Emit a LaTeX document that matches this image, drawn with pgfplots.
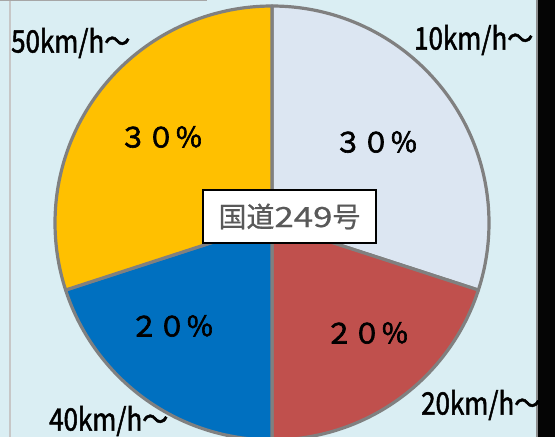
\documentclass[border=0pt]{standalone}
\usepackage{pgfplots}
\pgfplotsset{compat=1.18}
\usepackage{pgfplotstable}
\usepackage{fontspec}
\newfontfamily\jp[FakeBold=0.6]{Noto Sans CJK JP}
\newfontfamily\jpw[FakeBold=0.6,FakeStretch=1.25]{Noto Sans CJK JP}
\newfontfamily\jpb[FakeBold=2.2]{Noto Sans CJK JP}
\newfontfamily\jpc[FakeStretch=0.84,FakeBold=1.6]{Noto Sans CJK JP}
\definecolor{bg}{HTML}{DAEEF3}
\definecolor{sA}{HTML}{DCE6F2}
\definecolor{sB}{HTML}{C0504D}
\definecolor{sC}{HTML}{0070C0}
\definecolor{sD}{HTML}{FFC000}
\definecolor{edge}{HTML}{808080}
\definecolor{ctext}{HTML}{595959}
\definecolor{strip}{HTML}{050505}

\pgfplotstableread{
speed value
10 30
20 20
40 20
50 30
}\piedata
\pgfplotstablegetelem{0}{value}\of\piedata \edef\vA{\pgfplotsretval}%
\pgfplotstablegetelem{1}{value}\of\piedata \edef\vB{\pgfplotsretval}%
\pgfplotstablegetelem{2}{value}\of\piedata \edef\vC{\pgfplotsretval}%
\pgfplotstablegetelem{3}{value}\of\piedata \edef\vD{\pgfplotsretval}%

\begin{document}%
\begin{tikzpicture}
\begin{axis}[
  width=555bp, height=437bp, scale only axis,
  xmin=0, xmax=555, ymin=0, ymax=437,
  axis line style={draw=none}, ticks=none,
  axis background/.style={fill=bg},
  clip=true,
  slice/.style={draw=edge, line width=3.2bp, line join=round, samples=90, variable=\t},
]
\def\cx{272}\def\cy{214}\def\R{217}
% 10km/h~ : starts at top, clockwise
\addplot[slice, fill=sA, domain={90-3.6*\vA}:90]
  ({\cx+\R*cos(\t)},{\cy+\R*sin(\t)}) -- (\cx,\cy) -- cycle;
% 20km/h~
\addplot[slice, fill=sB, domain={90-3.6*(\vA+\vB)}:{90-3.6*\vA}]
  ({\cx+\R*cos(\t)},{\cy+\R*sin(\t)}) -- (\cx,\cy) -- cycle;
% 40km/h~
\addplot[slice, fill=sC, domain={90-3.6*(\vA+\vB+\vC)}:{90-3.6*(\vA+\vB)}]
  ({\cx+\R*cos(\t)},{\cy+\R*sin(\t)}) -- (\cx,\cy) -- cycle;
% 50km/h~
\addplot[slice, fill=sD, domain={90-3.6*(\vA+\vB+\vC+\vD)}:{90-3.6*(\vA+\vB+\vC)}]
  ({\cx+\R*cos(\t)},{\cy+\R*sin(\t)}) -- (\cx,\cy) -- cycle;

% frame decorations
\draw[black!22, line width=2bp] (axis cs:10,0) -- (axis cs:10,437);
\draw[black!35, line width=2bp] (axis cs:0,436.5) -- (axis cs:207,436.5);
\draw[edge!90, line width=2.5bp] (axis cs:536.8,0) -- (axis cs:536.8,437);
\draw[strip, line width=17bp] (axis cs:546.5,0) -- (axis cs:546.5,437);

% percent labels
\node[font=\jpb\fontsize{28}{28}\selectfont] at (376,295) {３０％};
\node[font=\jpb\fontsize{28}{28}\selectfont] at (161,300) {３０％};
\node[font=\jpb\fontsize{28}{28}\selectfont] at (367,104) {２０％};
\node[font=\jpb\fontsize{28}{28}\selectfont] at (172,111) {２０％};

% category labels
\node[font=\jpc\fontsize{31}{31}\selectfont, anchor=west, inner sep=0] at (11,394) {50km/h～};
\node[font=\jpc\fontsize{31}{31}\selectfont, anchor=west, inner sep=0] at (414,397) {10km/h～};
\node[font=\jpc\fontsize{31}{31}\selectfont, anchor=west, inner sep=0] at (49,16) {40km/h～};
\node[font=\jpc\fontsize{31}{31}\selectfont, anchor=west, inner sep=0] at (421,32) {20km/h～};

% center label
\node[draw=black, line width=1.5bp, fill=white, text=ctext, inner sep=0,
      minimum width=173bp, minimum height=53bp,
      font=\jp\fontsize{28}{28}\selectfont] at (289.5,220.5) {国道{\jpw 249}号};
\end{axis}
\end{tikzpicture}%
\end{document}
